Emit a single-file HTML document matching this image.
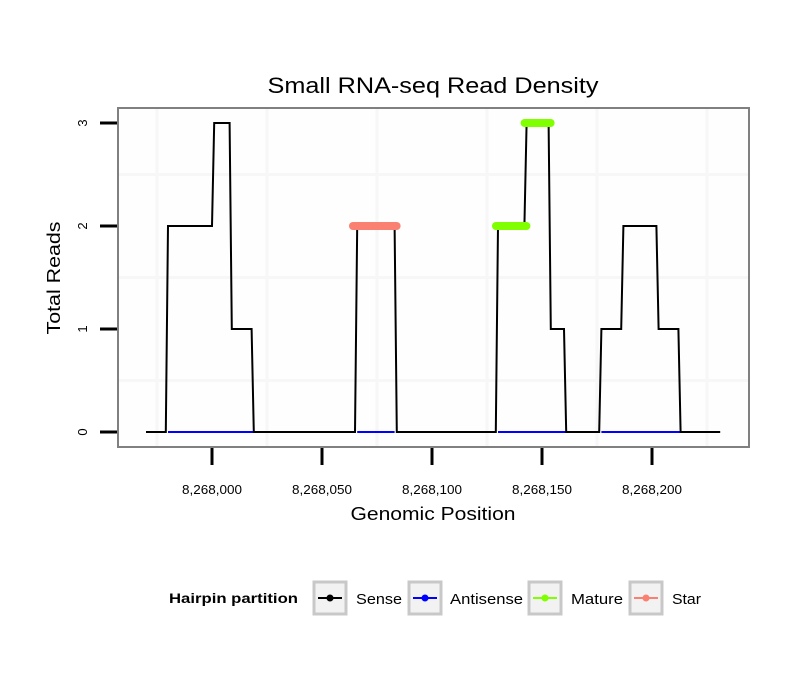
<!DOCTYPE html>
<html><head><meta charset="utf-8"><style>
body{margin:0;background:#fff;font-family:"Liberation Sans",sans-serif}
</style></head><body>
<svg id="c" width="810" height="690" xmlns="http://www.w3.org/2000/svg" font-family="Liberation Sans, sans-serif"></svg>
<script>
const sensePos=[-30,-21,-20,0,1,8,9,18,19,65,66,83,84,129,130,142,143,153,154,160,161,176,177,186,187,202,203,212,213,231];
const senseVal=[0,0,2,2,3,3,1,1,0,0,2,2,0,0,2,2,3,3,1,1,0,0,1,1,2,2,1,1,0,0];
const antisenseStart=[-20,66,130,177];
const antisenseEnd=[19,83,161,213];
const antisenseVal=[0,0,0,0];
const matureStart=[130,143];
const matureEnd=[142,153];
const matureVal=[2,3];
const starStart=[65];
const starEnd=[83];
const starVal=[2];
const xTicks=[0,50,100,150,200];
const xTickLabels=["8,268,000","8,268,050","8,268,100","8,268,150","8,268,200"];
const yTicks=[0,1,2,3];
const svg=document.getElementById('c');
const NS='http://www.w3.org/2000/svg';
const X=v=>212+v*2.2, Y=v=>432-v*103;
function add(tag,a,name,parent){const e=document.createElementNS(NS,tag);for(const k in a)e.setAttribute(k,a[k]);


(parent||svg).appendChild(e);return e;}
add('rect',{x:118,y:108,width:631,height:339,fill:'#fefefe'},'plot-panel');
[-25,25,75,125,175,225].forEach(v=>add('line',{x1:X(v),x2:X(v),y1:109,y2:446,stroke:'#f7f7f7','stroke-width':3},'grid-minor-x'));
[0.5,1.5,2.5].forEach(v=>add('line',{x1:119,x2:748,y1:Y(v),y2:Y(v),stroke:'#f7f7f7','stroke-width':3},'grid-minor-y'));
antisenseStart.forEach((s,i)=>add('line',{x1:X(s),x2:X(antisenseEnd[i]),y1:Y(antisenseVal[i]),y2:Y(antisenseVal[i]),stroke:'#0000ff','stroke-width':2},'antisense-line'));
add('polyline',{points:sensePos.map((p,i)=>X(p)+','+Y(senseVal[i])).join(' '),fill:'none',stroke:'#000','stroke-width':2},'sense-line');
antisenseStart.forEach((s,i)=>add('line',{x1:X(s)+1,x2:X(antisenseEnd[i])-1,y1:Y(antisenseVal[i]),y2:Y(antisenseVal[i]),stroke:'#0000ff','stroke-width':2},'antisense-segment'));
matureStart.forEach((s,i)=>add('line',{x1:X(s)-2,x2:X(matureEnd[i])+2,y1:Y(matureVal[i]),y2:Y(matureVal[i]),stroke:'#7fff00','stroke-width':8,'stroke-linecap':'round'},'mature-segment'));
starStart.forEach((s,i)=>add('line',{x1:X(s)-2,x2:X(starEnd[i])+2,y1:Y(starVal[i]),y2:Y(starVal[i]),stroke:'#fa8072','stroke-width':8,'stroke-linecap':'round'},'star-segment'));
add('rect',{x:118,y:108,width:631,height:339,fill:'none',stroke:'#808080','stroke-width':2},'panel-border');
xTicks.forEach((v,i)=>{add('line',{x1:X(v),x2:X(v),y1:448,y2:465,stroke:'#000','stroke-width':3},'x-tick');
const t=add('text',{x:X(v),y:494,'text-anchor':'middle','font-size':13,textLength:60,lengthAdjust:'spacingAndGlyphs'},'x-tick-label');t.textContent=xTickLabels[i];});
yTicks.forEach(v=>{add('line',{x1:100,x2:117,y1:Y(v),y2:Y(v),stroke:'#000','stroke-width':3},'y-tick');
const t=add('text',{x:0,y:0,'text-anchor':'middle','font-size':13,transform:`translate(87,${Y(v)}) rotate(-90)`},'y-tick-label');t.textContent=v;});
let t=add('text',{x:433,y:93,'text-anchor':'middle','font-size':22,textLength:331,lengthAdjust:'spacingAndGlyphs'},'chart-title');t.textContent='Small RNA-seq Read Density';
t=add('text',{x:433,y:520,'text-anchor':'middle','font-size':18,textLength:165,lengthAdjust:'spacingAndGlyphs'},'x-axis-title');t.textContent='Genomic Position';
t=add('text',{x:0,y:0,'text-anchor':'middle','font-size':18,textLength:113,lengthAdjust:'spacingAndGlyphs',transform:'translate(60,278) rotate(-90)'},'y-axis-title');t.textContent='Total Reads';
t=add('text',{x:169,y:603,'font-size':14,'font-weight':'bold',textLength:129,lengthAdjust:'spacingAndGlyphs'},'legend-title');t.textContent='Hairpin partition';
const legNames=['Sense','Antisense','Mature','Star'];
const legCols=['#000','#0000ff','#7fff00','#fa8072'];
const legX=[314,409,529,630];
const legLabelX=[356,450,571,672];
const legLabelW=[46,73,52,29];
legNames.forEach((n,i)=>{const g=add('g',{},'legend-entry-'+n.toLowerCase());
add('rect',{x:legX[i],y:582,width:32,height:32,fill:'#f2f2f2',stroke:'#c8c8c8','stroke-width':3},'legend-key',g);
add('line',{x1:legX[i]+4,x2:legX[i]+28,y1:598,y2:598,stroke:legCols[i],'stroke-width':2},'legend-key-line',g);
add('circle',{cx:legX[i]+16,cy:598,r:3.5,fill:legCols[i]},'legend-key-point',g);
const tt=add('text',{x:legLabelX[i],y:604,'font-size':15,textLength:legLabelW[i],lengthAdjust:'spacingAndGlyphs'},'legend-label',g);tt.textContent=n;});
</script>
</body></html>
